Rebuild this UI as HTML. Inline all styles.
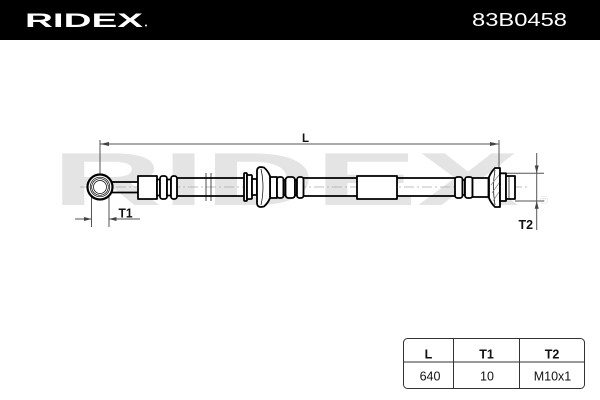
<!DOCTYPE html>
<html>
<head>
<meta charset="utf-8">
<style>
  html,body{margin:0;padding:0;background:#fff;}
  svg{display:block;}
  text{font-family:"Liberation Sans",sans-serif;}
</style>
</head>
<body>
<svg width="600" height="400" viewBox="0 0 600 400" xmlns="http://www.w3.org/2000/svg">
  <!-- header -->
  <rect x="0" y="0" width="600" height="40" fill="#000"/>
  <text x="25" y="27" font-size="19" font-weight="bold" fill="#fff" textLength="118" lengthAdjust="spacingAndGlyphs">RIDEX</text>
  <circle cx="146" cy="25.5" r="1" fill="#fff"/>
  <text x="472" y="26" font-size="18" fill="#fff" textLength="95" lengthAdjust="spacingAndGlyphs">83B0458</text>

  <!-- watermark -->
  <text x="52" y="205" font-size="75" font-weight="bold" fill="#e4e4e4" textLength="467" lengthAdjust="spacingAndGlyphs">RIDEX</text>
  <text x="540" y="204" font-size="11" fill="#dedede">®</text>

  <!-- centerline -->
  <line x1="80" y1="187" x2="528" y2="187" stroke="#aaa" stroke-width="0.8" stroke-dasharray="10,3,2,3"/>

  <!-- L dimension -->
  <g stroke="#555" stroke-width="1" fill="none">
    <line x1="100" y1="144" x2="499" y2="144"/>
    <line x1="100" y1="140" x2="100" y2="200"/>
    <line x1="499" y1="140" x2="499" y2="176"/>
  </g>
  <polygon points="100,144 109,142 109,146" fill="#444"/>
  <polygon points="499,144 490,142 490,146" fill="#444"/>
  <text x="302" y="142" font-size="11.5" font-weight="bold" fill="#111">L</text>

  <!-- T1 dimension -->
  <g stroke="#555" stroke-width="1" fill="none">
    <line x1="91.5" y1="192" x2="91.5" y2="227"/>
    <line x1="109" y1="192" x2="109" y2="227"/>
    <line x1="75" y1="219" x2="91.5" y2="219"/>
    <line x1="109" y1="219" x2="140" y2="219"/>
  </g>
  <polygon points="91.5,219 84,217 84,221" fill="#444"/>
  <polygon points="109,219 116.5,217 116.5,221" fill="#444"/>
  <text x="118.5" y="217.5" font-size="12.5" font-weight="bold" fill="#111" textLength="14" lengthAdjust="spacingAndGlyphs">T1</text>

  <!-- T2 dimension -->
  <g stroke="#555" stroke-width="1" fill="none">
    <line x1="500" y1="173.3" x2="544" y2="173.3"/>
    <line x1="515" y1="201" x2="544" y2="201"/>
    <line x1="536.7" y1="153" x2="536.7" y2="230"/>
  </g>
  <polygon points="536.7,173.3 534.7,165.5 538.7,165.5" fill="#444"/>
  <polygon points="536.7,201 534.7,208.8 538.7,208.8" fill="#444"/>
  <text x="518.5" y="229" font-size="13" font-weight="bold" fill="#111" textLength="14.5" lengthAdjust="spacingAndGlyphs">T2</text>

  <!-- hose parts -->
  <g stroke="#000" stroke-width="1.8" fill="#fff" stroke-linejoin="round">
    <!-- hose lines -->
    <line x1="177" y1="178" x2="244" y2="178"/>
    <line x1="177" y1="196" x2="244" y2="196"/>
    <line x1="303" y1="178" x2="357" y2="178"/>
    <line x1="303" y1="196" x2="357" y2="196"/>
    <line x1="397" y1="178" x2="455" y2="178"/>
    <line x1="397" y1="196" x2="455" y2="196"/>

    <!-- banjo neck -->
    <line x1="111" y1="182" x2="138" y2="182"/>
    <line x1="111" y1="192.5" x2="138" y2="192.5"/>
    <!-- banjo eye -->
    <circle cx="100" cy="187" r="12.5" stroke-width="2.2"/>

    <!-- fitting 1 -->
    <rect x="138" y="176" width="19" height="23"/>
    <rect x="157" y="179.5" width="3" height="16"/>
    <rect x="160" y="176" width="7" height="23" rx="2.5"/>
    <rect x="167" y="179.5" width="4" height="16"/>
    <rect x="171" y="176" width="6" height="23" rx="2.5"/>

    <!-- middle fitting -->
    <rect x="244" y="173" width="3" height="28" rx="1"/>
    <rect x="247" y="175" width="5" height="24" rx="1"/>
    <rect x="252" y="179" width="5" height="16"/>
    <rect x="270" y="177" width="7" height="21"/>
    <rect x="277" y="177" width="6.5" height="21" rx="2.5"/>
    <rect x="283.5" y="180" width="2" height="15"/>
    <rect x="285.5" y="177" width="9.5" height="21" rx="3"/>
    <rect x="295" y="180" width="2" height="15"/>
    <rect x="297" y="177" width="6.5" height="21" rx="2.5"/>
    <path d="M257,171 Q257,167 261,167 L264,167.5 Q268,171 270,176 L270,198 Q268,203 264,206.5 L261,207 Q257,207 257,203 Z"/>

    <!-- crimp sleeve -->
    <rect x="357" y="176" width="40" height="23"/>

    <!-- right fitting -->
    <rect x="455" y="177" width="7.5" height="21" rx="2.5"/>
    <rect x="462.5" y="180" width="2.5" height="15"/>
    <rect x="465" y="177" width="7.5" height="21" rx="2.5"/>
    <rect x="472.5" y="178" width="16" height="19"/>
    <path d="M500,168 L500,207 L495,207 Q491,203 489,198 L489,177 Q491,172 495,168 Z"/>
    <rect x="500" y="173.3" width="6" height="27.7"/>
    <rect x="506" y="176" width="9" height="23"/>
  </g>

  <!-- fine details -->
  <g stroke="#000" stroke-width="0.7" fill="none">
    <circle cx="100" cy="187" r="9.8"/>
    <circle cx="100" cy="187" r="8.3"/>
    <circle cx="100" cy="187" r="6.5"/>
    <path d="M261,169 Q265,187 261,205"/>
    <line x1="206" y1="173" x2="206" y2="201"/>
    <line x1="211" y1="173" x2="211" y2="201"/>
    <line x1="509" y1="176" x2="509" y2="199"/>
    <path d="M495,170 Q492,187 495,205"/>
  </g>
  <g stroke="#888" stroke-width="0.7">
    <line x1="491" y1="185" x2="499" y2="175"/>
    <line x1="492" y1="193" x2="499" y2="183"/>
    <line x1="493" y1="201" x2="499" y2="192"/>
  </g>

  <!-- table -->
  <g stroke="#333" stroke-width="1" fill="none">
    <rect x="403.5" y="338.5" width="181" height="50" rx="4"/>
    <line x1="403.5" y1="362" x2="584.5" y2="362"/>
    <line x1="453.5" y1="338.5" x2="453.5" y2="388.5"/>
    <line x1="519.5" y1="338.5" x2="519.5" y2="388.5"/>
  </g>
  <g font-size="12.5" fill="#111" text-anchor="middle">
    <text x="428.5" y="358.3" font-weight="bold">L</text>
    <text x="486.5" y="358.3" font-weight="bold">T1</text>
    <text x="552" y="358.3" font-weight="bold">T2</text>
    <text x="430" y="380.7">640</text>
    <text x="487" y="380.7">10</text>
    <text x="552.5" y="380.7">M10x1</text>
  </g>
</svg>
</body>
</html>
